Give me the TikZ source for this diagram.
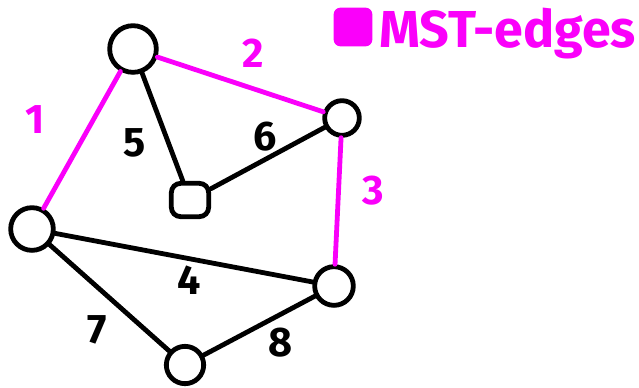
\documentclass[tikz,border=0pt]{standalone}
\usepackage{fontspec}
\setmainfont{Fira Sans}
\usetikzlibrary{positioning}
\definecolor{mstpink}{RGB}{250,0,250}

\begin{document}
\begin{tikzpicture}[
  x=0.75pt, y=-0.75pt,
  vert/.style={circle, draw=black, line width=3.6pt, inner sep=0pt, fill=white},
  edge/.style={line width=3.6pt, line cap=round, black},
  mst/.style={edge, mstpink},
  lbl/.style={font=\fontsize{31}{31}\selectfont\bfseries, text=black, inner sep=0pt},
  mstlbl/.style={lbl, text=mstpink},
]
  \useasboundingbox (0,0) rectangle (639,387);

  % vertices
  \node[vert, minimum size=35pt] (top)    at (133,49)  {};
  \node[vert, minimum size=26pt] (right)  at (342,118) {};
  \node[vert, rectangle, rounded corners=7pt, minimum width=28pt, minimum height=25pt]
                                 (mid)    at (190,200) {};
  \node[vert, minimum size=32pt] (left)   at (32,229)  {};
  \node[vert, minimum size=29pt] (lowr)   at (334,286) {};
  \node[vert, minimum size=28pt] (bottom) at (185,365) {};

  % MST edges
  \draw[mst] (top)   -- (left);
  \draw[mst] (top)   -- (right);
  \draw[mst] (right) -- (lowr);

  % other edges
  \draw[edge] (left)   -- (lowr);
  \draw[edge] (top)    -- (mid);
  \draw[edge] (mid)    -- (right);
  \draw[edge] (left)   -- (bottom);
  \draw[edge] (bottom) -- (lowr);

  % weights
  \node[mstlbl] (w1) at (35,120)  {1};
  \node[mstlbl] (w2) at (253,53)  {2};
  \node[mstlbl] (w3) at (373,191) {3};
  \node[lbl]    (w4) at (189,280) {4};
  \node[lbl]    (w5) at (135,143) {5};
  \node[lbl]    (w6) at (265,137) {6};
  \node[lbl]    (w7) at (97,330)  {7};
  \node[lbl]    (w8) at (281,343) {8};

  % legend
  \node[fill=mstpink, rounded corners=5pt, minimum width=29pt, minimum height=29pt]
    (key) at (353,27) {};
  \node[anchor=base west, inner sep=0pt, text=mstpink,
        font=\fontsize{39}{39}\selectfont\bfseries] (keytext) at (379,47) {MST-edges};
\end{tikzpicture}
\end{document}
